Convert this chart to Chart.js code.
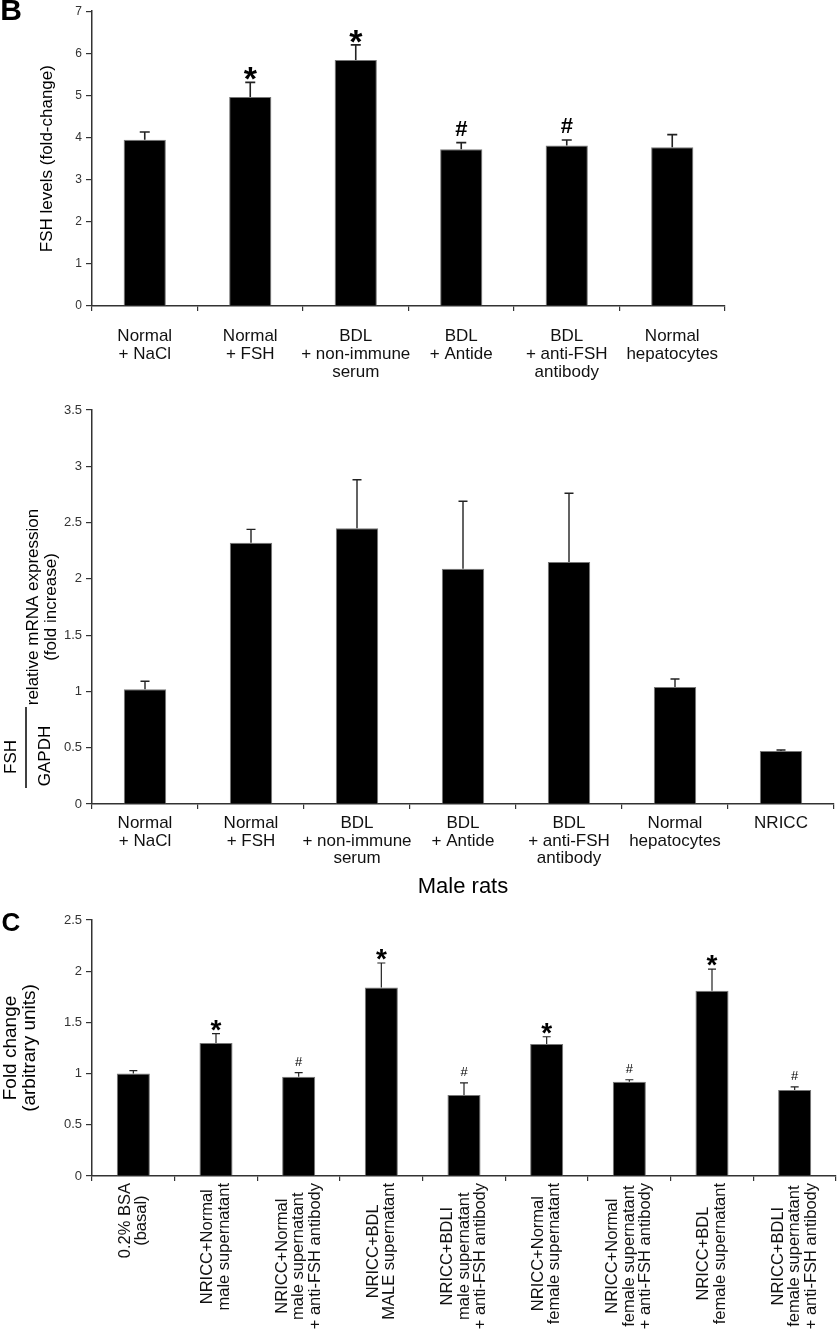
<!DOCTYPE html>
<html>
<head>
<meta charset="utf-8">
<script src="https://cdn.jsdelivr.net/npm/chart.js@4.4.1/dist/chart.umd.min.js"></script>
<style>
  body { margin: 0; background: #fff; }
  .panel { position: absolute; left: 0; }
</style>
</head>
<body>
<div class="panel" style="top:0px"><canvas id="fshLevelsChart" width="840" height="380"></canvas></div>
<div class="panel" style="top:380px"><canvas id="mrnaChart" width="840" height="520"></canvas></div>
<div class="panel" style="top:900px"><canvas id="supernatantChart" width="840" height="435"></canvas></div>
<script>
const FONT = "'Liberation Sans', Arial, Helvetica, sans-serif";

// panel B (top): FSH levels
const fshLevelsLabels = [
  ["Normal", "+ NaCl"],
  ["Normal", "+ FSH"],
  ["BDL", "+ non-immune", "serum"],
  ["BDL", "+ Antide"],
  ["BDL", "+ anti-FSH", "antibody"],
  ["Normal", "hepatocytes"],
];
const fshLevels = [3.95, 4.96, 5.84, 3.72, 3.81, 3.77];
const fshLevelsErr = [0.18, 0.35, 0.36, 0.16, 0.13, 0.30];
const fshLevelsMarks = ["", "*", "*", "#", "#", ""];
const fshLevelsTicks = [0, 1, 2, 3, 4, 5, 6, 7];

// panel B (middle): FSH / GAPDH mRNA
const mrnaLabels = [
  ["Normal", "+ NaCl"],
  ["Normal", "+ FSH"],
  ["BDL", "+ non-immune", "serum"],
  ["BDL", "+ Antide"],
  ["BDL", "+ anti-FSH", "antibody"],
  ["Normal", "hepatocytes"],
  ["NRICC"],
];
const mrnaValues = [1.02, 2.32, 2.45, 2.09, 2.15, 1.04, 0.47];
const mrnaErr = [0.07, 0.12, 0.43, 0.60, 0.61, 0.07, 0.01];
const mrnaMarks = ["", "", "", "", "", "", ""];

// panel C: supernatants
const supLabels = [
  ["0.2% BSA", "(basal)"],
  ["NRICC+Normal", "male supernatant"],
  ["NRICC+Normal", "male supernatant", "+ anti-FSH antibody"],
  ["NRICC+BDL", "MALE supernatant"],
  ["NRICC+BDLI", "male supernatant", "+ anti-FSH antibody"],
  ["NRICC+Normal", "female supernatant"],
  ["NRICC+Normal", "female supernatant", "+ anti-FSH antibody"],
  ["NRICC+BDL", "female supernatant"],
  ["NRICC+BDLI", "female supernatant", "+ anti-FSH antibody"],
];
const supValues = [1.00, 1.30, 0.97, 1.84, 0.79, 1.29, 0.92, 1.81, 0.84];
const supErr = [0.03, 0.09, 0.04, 0.24, 0.12, 0.07, 0.02, 0.21, 0.03];
const supMarks = ["", "*", "#", "*", "#", "*", "#", "*", "#"];

const errorBarsPlugin = {
  id: "errorBars",
  afterDatasetsDraw(chart, args, opts) {
    const { ctx } = chart;
    const yScale = chart.scales.y;
    const meta = chart.getDatasetMeta(0);
    const values = chart.data.datasets[0].data;
    ctx.save();
    ctx.strokeStyle = "#222";
    ctx.lineWidth = opts.lineWidth;
    ctx.fillStyle = "#000";
    ctx.textAlign = "center";
    ctx.textBaseline = "alphabetic";
    meta.data.forEach((bar, i) => {
      const top = yScale.getPixelForValue(values[i] + opts.errors[i]);
      ctx.beginPath();
      ctx.moveTo(bar.x, bar.y);
      ctx.lineTo(bar.x, top);
      ctx.moveTo(bar.x - opts.cap / 2, top);
      ctx.lineTo(bar.x + opts.cap / 2, top);
      ctx.stroke();
      const mark = opts.marks[i];
      if (mark === "*") {
        ctx.font = opts.starFont;
        ctx.fillText(mark, bar.x, top + opts.starShift);
      } else if (mark === "#") {
        ctx.font = opts.hashFont;
        ctx.fillText(mark, bar.x, top + opts.hashShift);
      }
    });
    ctx.restore();
  },
};

// vertical, centred multi-line category labels (panel C)
const verticalLabelsPlugin = {
  id: "verticalLabels",
  afterDraw(chart, args, opts) {
    if (!opts.enabled) return;
    const { ctx } = chart;
    const xScale = chart.scales.x;
    ctx.save();
    ctx.fillStyle = "#111";
    ctx.font = opts.font;
    ctx.textAlign = "center";
    ctx.textBaseline = "middle";
    chart.data.labels.forEach((lines, i) => {
      const x = xScale.getPixelForValue(i);
      const maxW = Math.max(...lines.map((t) => ctx.measureText(t).width));
      const yc = xScale.top + opts.gap + maxW / 2;
      lines.forEach((t, j) => {
        ctx.save();
        ctx.translate(x + (j - (lines.length - 1) / 2) * opts.lineHeight, yc);
        ctx.rotate(-Math.PI / 2);
        ctx.fillText(t, 0, 0);
        ctx.restore();
      });
    });
    ctx.restore();
  },
};

const extraTextPlugin = {
  id: "extraText",
  afterDraw(chart, args, opts) {
    const { ctx } = chart;
    ctx.save();
    ctx.fillStyle = "#000";
    (opts.items || []).forEach((item) => {
      ctx.save();
      ctx.translate(item.x, item.y);
      ctx.rotate(item.rotate || 0);
      ctx.font = item.font;
      ctx.textAlign = "center";
      ctx.textBaseline = "middle";
      ctx.fillText(item.text, 0, 0);
      ctx.restore();
    });
    (opts.lines || []).forEach((ln) => {
      ctx.strokeStyle = "#000";
      ctx.lineWidth = 1.5;
      ctx.beginPath();
      ctx.moveTo(ln[0], ln[1]);
      ctx.lineTo(ln[2], ln[3]);
      ctx.stroke();
    });
    ctx.restore();
  },
};

function buildConfig(p) {
  return {
    type: "bar",
    data: {
      labels: p.labels,
      datasets: [
        {
          data: p.values,
          backgroundColor: "#000",
          borderColor: "#777",
          borderWidth: 1,
          barPercentage: 0.4,
          categoryPercentage: 1.0,
        },
      ],
    },
    options: {
      responsive: false,
      animation: false,
      layout: { padding: p.padding },
      plugins: {
        legend: { display: false },
        tooltip: { enabled: false },
        errorBars: p.errorBars,
        extraText: p.extraText || {},
        verticalLabels: p.verticalLabels || { enabled: false },
      },
      scales: {
        x: {
          afterFit: (scale) => { scale.height = p.xHeight; },
          grid: {
            offset: true,
            drawOnChartArea: false,
            drawTicks: true,
            tickLength: 5,
            color: "#333",
            lineWidth: 1.2,
          },
          border: { display: true, color: "#333", width: 1.5 },
          ticks: {
            display: !p.verticalLabels,
            autoSkip: false,
            color: "#111",
            padding: p.xPad,
            maxRotation: 0,
            font: { family: FONT, size: p.xFont, lineHeight: p.xLine },
          },
          title: p.xTitle || { display: false },
        },
        y: {
          min: 0,
          max: p.yMax,
          afterFit: (scale) => { scale.width = 92; },
          grid: {
            drawOnChartArea: false,
            drawTicks: true,
            tickLength: 6,
            color: "#333",
            lineWidth: 1.2,
          },
          border: { display: true, color: "#333", width: 1.5 },
          ticks: {
            stepSize: p.yStep,
            color: "#333",
            padding: 4,
            font: { family: FONT, size: p.yFont },
            callback: (value) => String(value),
          },
          title: p.yTitle,
        },
      },
    },
    plugins: [errorBarsPlugin, verticalLabelsPlugin, extraTextPlugin],
  };
}

new Chart(document.getElementById("fshLevelsChart"), buildConfig({
  labels: fshLevelsLabels,
  values: fshLevels,
  padding: { left: 0, top: 8, right: 115, bottom: 0 },
  xHeight: 74,
  xPad: 16,
  xFont: 17,
  xLine: 1.06,
  yMax: fshLevelsTicks[fshLevelsTicks.length - 1],
  yStep: 1,
  yFont: 12,
  yTitle: {
    display: true,
    text: "FSH levels (fold-change)",
    color: "#000",
    padding: { top: 37, bottom: 0 },
    font: { family: FONT, size: 17, lineHeight: 1.2 },
  },
  errorBars: {
    errors: fshLevelsErr,
    marks: fshLevelsMarks,
    lineWidth: 1.6,
    cap: 10,
    starFont: "bold 34px " + FONT,
    starShift: 8,
    hashFont: "bold 22px " + FONT,
    hashShift: -7,
  },
  extraText: {
    items: [{ text: "B", x: 11, y: 12, font: "bold 30px " + FONT }],
  },
}));

new Chart(document.getElementById("mrnaChart"), buildConfig({
  labels: mrnaLabels,
  values: mrnaValues,
  padding: { left: 0, top: 30, right: 6, bottom: 0 },
  xHeight: 96,
  xPad: 6,
  xFont: 17,
  xLine: 1.03,
  yMax: 3.5,
  yStep: 0.5,
  yFont: 13,
  yTitle: {
    display: true,
    text: ["relative mRNA expression", "(fold increase)"],
    color: "#000",
    padding: { top: 25, bottom: 0 },
    font: { family: FONT, size: 17, lineHeight: 1.03 },
  },
  xTitle: {
    display: true,
    text: "Male rats",
    color: "#000",
    padding: { top: 2, bottom: 0 },
    font: { family: FONT, size: 22 },
  },
  errorBars: {
    errors: mrnaErr,
    marks: mrnaMarks,
    lineWidth: 1.4,
    cap: 9,
    starFont: "bold 30px " + FONT,
    starShift: 8,
    hashFont: "bold 20px " + FONT,
    hashShift: -7,
  },
  extraText: {
    items: [
      { text: "FSH", x: 11, y: 377, rotate: -Math.PI / 2, font: "17px " + FONT },
      { text: "GAPDH", x: 45, y: 376, rotate: -Math.PI / 2, font: "17px " + FONT },
    ],
    lines: [[26, 327, 26, 408]],
  },
}));

new Chart(document.getElementById("supernatantChart"), buildConfig({
  labels: supLabels,
  values: supValues,
  padding: { left: 0, top: 20, right: 4, bottom: 0 },
  xHeight: 159,
  xPad: 2,
  xFont: 17,
  xLine: 1.0,
  yMax: 2.5,
  yStep: 0.5,
  yFont: 13,
  yTitle: {
    display: true,
    text: ["Fold change", "(arbitrary units)"],
    color: "#000",
    padding: { top: 1, bottom: 0 },
    font: { family: FONT, size: 19, lineHeight: 1.0 },
  },
  verticalLabels: { enabled: true, font: "16.5px " + FONT, lineHeight: 16.5, gap: 7 },
  errorBars: {
    errors: supErr,
    marks: supMarks,
    lineWidth: 1.2,
    cap: 8,
    starFont: "bold 28px " + FONT,
    starShift: 5,
    hashFont: "13px " + FONT,
    hashShift: -7,
  },
  extraText: {
    items: [{ text: "C", x: 11, y: 24, font: "bold 26px " + FONT }],
  },
}));
</script>
</body>
</html>
